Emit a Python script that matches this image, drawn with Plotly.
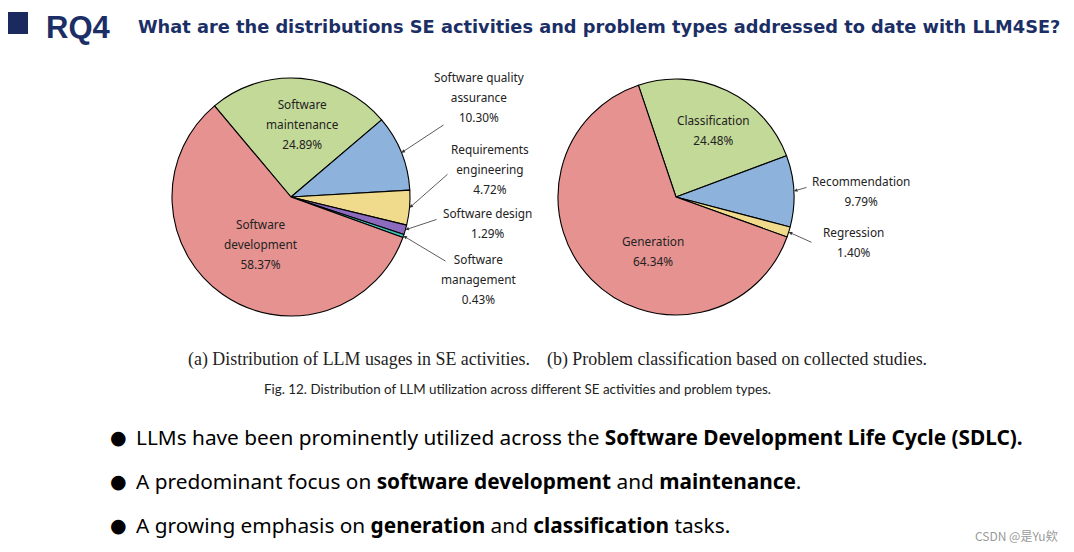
import math
import plotly.graph_objects as go

# The page body has an 8px margin, so the figure is made 16px smaller and
# reference-pixel positions are shifted by 8px.
PAGE_W, PAGE_H = 1074, 552
OFF = 8
W, H = PAGE_W - 2 * OFF, PAGE_H - 2 * OFF

# ---------------- data ----------------
act_labels = ["Software maintenance", "Software quality assurance", "Requirements engineering",
              "Software design", "Software management", "Software development"]
act_values = [24.89, 10.30, 4.72, 1.29, 0.43, 58.37]
act_colors = ["#C3D997", "#8DB3DD", "#EFDB8B", "#8C6BBE", "#3FC1BA", "#E69290"]
act_text_lines = [["Software", "maintenance"], ["Software quality", "assurance"],
                  ["Requirements", "engineering"], ["Software design"],
                  ["Software", "management"], ["Software", "development"]]

prob_labels = ["Classification", "Recommendation", "Regression", "Generation"]
prob_values = [24.48, 9.79, 1.40, 64.34]
prob_colors = ["#C3D997", "#8DB3DD", "#EFDB8B", "#E69290"]
prob_text_lines = [["Classification"], ["Recommendation"], ["Regression"], ["Generation"]]

title_main = "RQ4"
title_q = "What are the distributions SE activities and problem types addressed to date with LLM4SE?"
cap_a = "(a) Distribution of LLM usages in SE activities."
cap_b = "(b) Problem classification based on collected studies."
fig_cap = "Fig. 12. Distribution of LLM utilization across different SE activities and problem types."
bullets = [
    "LLMs have been prominently utilized across the <b>Software Development Life Cycle (SDLC).</b>",
    "A predominant focus on <b>software development</b> and <b>maintenance</b>.",
    "A growing emphasis on <b>generation</b> and <b>classification</b> tasks.",
]
watermark = "CSDN @是Yu欸"

# ---------------- layout helpers ----------------
def px(x):
    return (x - OFF) / W

def py(y):
    return 1 - (y - OFF) / H

PIE1 = dict(cx=291, cy=197, r=119, rot=-40)
PIE2 = dict(cx=676, cy=197, r=118, rot=-18.6)

def domain(p):
    return dict(x=[px(p["cx"] - p["r"]), px(p["cx"] + p["r"])],
                y=[py(p["cy"] + p["r"]), py(p["cy"] - p["r"])])

def mid_angles(values, rot):
    total = sum(values)
    out = []
    acc = rot
    for v in values:
        a = v / total * 360
        out.append(acc + a / 2)  # clockwise from 12 o'clock
        acc += a
    return out

def edge_point(p, ang):
    t = math.radians(ang)
    return p["cx"] + p["r"] * math.sin(t), p["cy"] - p["r"] * math.cos(t)

fig = go.Figure()
fig.add_trace(go.Pie(labels=act_labels, values=act_values, sort=False, direction="clockwise",
                     rotation=PIE1["rot"], textinfo="none", hoverinfo="label+percent",
                     marker=dict(colors=act_colors, line=dict(color="#000000", width=1.1)),
                     domain=domain(PIE1), showlegend=False))
fig.add_trace(go.Pie(labels=prob_labels, values=prob_values, sort=False, direction="clockwise",
                     rotation=PIE2["rot"], textinfo="none", hoverinfo="label+percent",
                     marker=dict(colors=prob_colors, line=dict(color="#000000", width=1.1)),
                     domain=domain(PIE2), showlegend=False))

LFONT = "Noto Sans"
anns = []

def label_text(lines, val):
    parts = [f'<span style="font-size:11.8px">{l}</span>' for l in lines]
    parts.append(f'<span style="font-size:11.8px">{val:.2f}%</span>')
    return "<br>".join(parts)

def add_label(x, y, lines, val):
    anns.append(dict(x=px(x), y=py(y), xref="paper", yref="paper", showarrow=False,
                     text=label_text(lines, val), align="center",
                     font=dict(family=LFONT, size=15.4, color="#222222"),
                     xanchor="center", yanchor="middle"))

def add_arrow(p, ang, tail):
    tx, ty = edge_point(p, ang)
    anns.append(dict(x=px(tx), y=py(ty), xref="paper", yref="paper", showarrow=True,
                     ax=tail[0] - tx, ay=tail[1] - ty, text="", arrowhead=2, arrowsize=0.9,
                     arrowwidth=0.8, arrowcolor="#333333", standoff=0, startstandoff=0))

# pie 1 labels (positions are layout choices)
m1 = mid_angles(act_values, PIE1["rot"])
pos1 = [(302, 124, None), (479, 97, (445, 124)), (490, 169, (449, 173)),
        (487, 223, (438, 219)), (478, 279, (447, 262)), (260, 244, None)]
for i, (x, y, tail) in enumerate(pos1):
    add_label(x, y, act_text_lines[i], act_values[i])
    if tail:
        add_arrow(PIE1, m1[i], tail)

m2 = mid_angles(prob_values, PIE2["rot"])
pos2 = [(713, 130, None), (861, 191, (808, 187)), (853, 242, (813, 243)), (653, 251, None)]
for i, (x, y, tail) in enumerate(pos2):
    add_label(x, y, prob_text_lines[i], prob_values[i])
    if tail:
        add_arrow(PIE2, m2[i], tail)

NAVY = "#1B2F66"
anns.append(dict(x=px(45), y=py(8.5), xref="paper", yref="paper", showarrow=False, xanchor="left",
                 yanchor="top", text=f"<b>{title_main}</b>", borderpad=0,
                 font=dict(family="Liberation Sans", size=31, color=NAVY)))
anns.append(dict(x=px(136), y=py(27), xref="paper", yref="paper", showarrow=False, xanchor="left",
                 yanchor="middle", text=f"<b>{title_q}</b>",
                 font=dict(family="DejaVu Sans", size=17.8, color=NAVY)))
anns.append(dict(x=px(186), y=py(359), xref="paper", yref="paper", showarrow=False, xanchor="left",
                 yanchor="middle", text=cap_a,
                 font=dict(family="Liberation Serif", size=17.9, color="#222222")))
anns.append(dict(x=px(545), y=py(359), xref="paper", yref="paper", showarrow=False, xanchor="left",
                 yanchor="middle", text=cap_b,
                 font=dict(family="Liberation Serif", size=17.9, color="#222222")))
anns.append(dict(x=px(262), y=py(389), xref="paper", yref="paper", showarrow=False, xanchor="left",
                 yanchor="middle", text=fig_cap,
                 font=dict(family="Lato", size=13.4, color="#222222")))
for i, b in enumerate(bullets):
    yb = 437 + 44 * i
    anns.append(dict(x=px(108), y=py(yb), xref="paper", yref="paper", showarrow=False,
                     xanchor="left", yanchor="middle", text="●",
                     font=dict(family="DejaVu Sans", size=19, color="#000000")))
    anns.append(dict(x=px(134), y=py(yb), xref="paper", yref="paper", showarrow=False,
                     xanchor="left", yanchor="middle", text=b,
                     font=dict(family="Noto Sans", size=20.8, color="#000000")))
anns.append(dict(x=px(1060), y=py(535), xref="paper", yref="paper", showarrow=False,
                 xanchor="right", yanchor="middle", text=watermark,
                 font=dict(family="Noto Sans CJK SC", size=12, color="#9A9A9A")))

shapes = [dict(type="rect", xref="paper", yref="paper", x0=px(7), x1=px(28), y0=py(34), y1=py(12),
               fillcolor="#1B2A5E", line=dict(width=0))]

fig.update_layout(width=W, height=H, margin=dict(l=0, r=0, t=0, b=0),
                  paper_bgcolor="white", plot_bgcolor="white",
                  annotations=anns, shapes=shapes, showlegend=False)
fig.write_html("out.html")
